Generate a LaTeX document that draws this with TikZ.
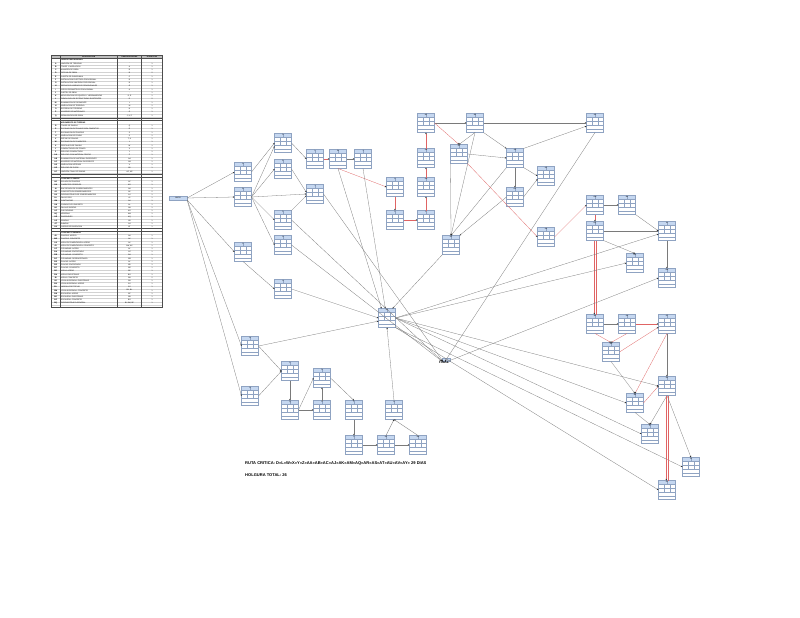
\documentclass[tikz,border=0pt]{standalone}
\usepackage{fontspec}
\setmainfont{Liberation Sans}
\usetikzlibrary{arrows.meta,calc}
\definecolor{boxc}{HTML}{8FA3C2}
\definecolor{hdrc}{HTML}{C5D7F0}
\definecolor{linec}{HTML}{7A7A7A}
\definecolor{critc}{HTML}{E06464}
\definecolor{thead}{HTML}{BFBFBF}
\tikzset{
  actbox/.style={draw=boxc, line width=0.3pt, fill=white, minimum width=17pt, minimum height=19pt, inner sep=0pt, outer sep=0pt},
  hdrtxt/.style={font=\fontsize{1.8}{2}\selectfont, inner sep=0pt},
  e/.style={draw=linec, line width=0.28pt, -{Stealth[length=1.7pt,width=1.4pt,color=black!85]}},
  crit/.style={e, draw=critc},
  plainred/.style={draw=critc, line width=0.28pt},
  tl/.style={font=\fontsize{1.9}{2}\selectfont\bfseries, inner sep=0pt},
  td/.style={font=\fontsize{1.8}{2}\selectfont, inner sep=0pt, anchor=west},
  tc/.style={font=\fontsize{1.8}{2}\selectfont, inner sep=0pt},
  tsh/.style={font=\fontsize{1.9}{2}\selectfont\bfseries, inner sep=0pt, anchor=west},
  rowl/.style={draw=gray!35, line width=0.12pt},
  secl/.style={draw=black!70, line width=0.3pt},
  bigtxt/.style={font=\fontsize{4.05}{4.2}\selectfont\bfseries, inner sep=0pt, anchor=west}
}
\newcommand\act[4]{%
  \node[actbox] (#1) at (#2,#3) {};
  \begin{scope}[shift={(#1.center)}]
    \fill[hdrc] (-8.5,-9.5) rectangle (8.5,-6);
    \draw[boxc, line width=0.2pt] (-8.5,-6) -- (8.5,-6) (-8.5,-2) -- (8.5,-2) (-8.5,2) -- (8.5,2) (-8.5,5.8) -- (8.5,5.8)
      (0,-9.5) -- (0,-6) (-2.83,-6) -- (-2.83,2) (2.83,-6) -- (2.83,2);
    \draw[boxc, line width=0.3pt] (-8.5,-9.5) rectangle (8.5,9.5);
    \node[hdrtxt] at (0,-7.75) {#4};
  \end{scope}
}
\newcommand\tsec[4]{%
  \node[tsh] at (61,#1) {#3};
  \draw[rowl] (51.5,#1+#2/2) -- (162.5,#1+#2/2);
  \foreach \l/\d/\p/\u [count=\i from 1] in {#4} {
    \pgfmathsetmacro\yy{#1+\i*#2}
    \node[tl] at (55.75,\yy) {\l};
    \node[td] at (61,\yy) {\d};
    \node[tc] at (129.5,\yy) {\p};
    \node[tc] at (152,\yy) {\u};
    \draw[rowl] (51.5,\yy+#2/2) -- (162.5,\yy+#2/2);
  }
}
\begin{document}
\begin{tikzpicture}[x=1pt,y=-1pt]
\fill[white] (0,0) rectangle (800,618);
\useasboundingbox (0,0) rectangle (800,618);

% ---------- table ----------
\fill[thead] (51.5,55) rectangle (162.5,58.6);
\node[tc,font=\fontsize{1.9}{2}\selectfont\bfseries] at (88.75,56.8) {DESCRIPCION};
\node[tc,font=\fontsize{1.9}{2}\selectfont\bfseries] at (129.5,56.8) {PREDECESORAS};
\node[tc,font=\fontsize{1.9}{2}\selectfont\bfseries] at (152,56.8) {DURACION};
\tsec{60.3}{3.25}{OBRAS PRELIMINARES}{A/LIMPIEZA DE TERRENO/-/1, B/TRAZO Y NIVELACION/A/1, C/ALMACEN DE OBRA/B/1, D/OFICINA DE OBRA/B/2, E/CASETA DE GUARDIANIA/C/1, F/INSTALACION ELECTRICA PROVISIONAL/B/1, G/INSTALACION SANITARIA PROVISIONAL/B/1, H/SERVICIOS HIGIENICOS PROVISIONALES/G/1, I/CERCO PERIMETRICO PROVISIONAL/A/1, J/CARTEL DE OBRA/-/1, K/MOVILIZACION DE EQUIPOS Y HERRAMIENTAS/{D, E}/1, L/DEMOLICION DE ESTRUCTURAS EXISTENTES/D/2, M/ELIMINACION DE DESMONTE/L/1, N/NIVELACION DE TERRENO/M/1, O/ENTREGA DE TERRENO/N/1, P/ACARREO DE MATERIALES/O/1, Q/SEÑALIZACION DE OBRA/{J, K, P}/1}
\tsec{122.8}{3.25}{MOVIMIENTO DE TIERRAS}{R/TRAZO DE ZANJAS/Q/1, S/EXCAVACION DE ZANJAS PARA CIMIENTOS/R/1, T/EXCAVACION DE ZAPATAS/S/1, U/NIVELACION DE FONDO/S/1, V/REFINE DE ZANJAS/{T, U}/1, W/EXCAVACION DE CIMIENTOS/L/1, X/PERFILADO DE ZANJAS/W/1, Y/COMPACTACION DE FONDO/X/1, Z/RELLENO COMPACTADO/Y/1, AA/RELLENO CON MATERIAL PROPIO/Z/1, AB/ELIMINACION DE MATERIAL EXCEDENTE/AA/1, AC/ACARREO DE MATERIAL EXCEDENTE/AB/1, AD/NIVELACION INTERIOR/V/1, AE/RELLENO DE PISOS/AD/1, AF/LIMPIEZA FINAL DE ZANJAS/{AC, AE}/1}
\tsec{178.9}{3.2}{CONCRETO SIMPLE}{AG/SOLADO DE ZAPATAS/AF/1, AH/CIMIENTOS CORRIDOS/AG/1, AI/ENCOFRADO DE SOBRECIMIENTOS/AH/1, AJ/CONCRETO EN SOBRECIMIENTOS/AC/2, AK/DESENCOFRADO DE SOBRECIMIENTOS/AJ/1, AL/FALSO PISO/AI/1, AM/CONTRAPISO/AK/1, AN/CURADO DE CONCRETO/AL/1, AO/FALSAS ZAPATAS/AN/1, AP/CALZADURAS/AO/1, AQ/VEREDAS/AM/1, AR/SARDINELES/AQ/1, AS/GRADAS/AR/1, AT/RAMPAS/AS/1, AU/JUNTAS DE DILATACION/AT/1}
\tsec{232.8}{3.2}{CONCRETO ARMADO}{AV/ZAPATAS: ACERO/AU/1, AW/ZAPATAS: CONCRETO/AV/1, AX/VIGAS DE CIMENTACION: ACERO/AV/1, AY/VIGAS DE CIMENTACION: CONCRETO/{AW, AX}/1, AZ/COLUMNAS: ACERO/AY/1, BA/COLUMNAS: ENCOFRADO/AZ/1, BB/COLUMNAS: CONCRETO/BA/1, BC/COLUMNAS: DESENCOFRADO/BB/1, BD/PLACAS: ACERO/AY/1, BE/PLACAS: ENCOFRADO/BD/1, BF/PLACAS: CONCRETO/BE/1, BG/VIGAS: ACERO/BC/1, BH/VIGAS: ENCOFRADO/BG/1, BI/VIGAS: CONCRETO/BH/2, BJ/LOSA ALIGERADA: ENCOFRADO/BH/1, BK/LOSA ALIGERADA: ACERO/BJ/1, BL/LADRILLO DE TECHO/BJ/1, BM/LOSA ALIGERADA: CONCRETO/{BK, BL}/1, BN/ESCALERA: ACERO/BF/1, BO/ESCALERA: ENCOFRADO/BN/1, BP/ESCALERA: CONCRETO/BO/1, BQ/DESENCOFRADO GENERAL/{BI, BM, BP}/1}
\draw[secl] (51.5,55) rectangle (162.5,306.8);
\draw[secl] (51.5,58.6) -- (162.5,58.6);
\draw[secl] (51.5,117.7) -- (162.5,117.7) (51.5,120.6) -- (162.5,120.6);
\draw[secl] (51.5,174.1) -- (162.5,174.1) (51.5,177.2) -- (162.5,177.2);
\draw[secl] (51.5,228.3) -- (162.5,228.3) (51.5,231.2) -- (162.5,231.2);
\draw[secl] (60,55) -- (60,306.8) (117.5,55) -- (117.5,306.8) (141.5,55) -- (141.5,306.8);

% ---------- activity nodes ----------
\node[draw=boxc, fill=hdrc, line width=0.3pt, minimum width=18pt, minimum height=3.6pt, inner sep=0pt, font=\fontsize{1.8}{2}\selectfont] (INICIO) at (178,198) {INICIO};
\act{A1}{243}{172}{A}
\act{A2}{243}{197}{B}
\act{A3}{243}{252}{C}
\act{B1}{283}{143}{D}
\act{B2}{283}{169}{E}
\act{B3}{283}{220}{F}
\act{B4}{283}{245}{G}
\act{B5}{283}{289}{H}
\act{C1}{315}{159}{L}
\act{C2}{315}{194}{I}
\act{D1}{338}{159}{W}
\act{D2}{363}{159}{J}
\act{E1}{395}{187}{X}
\act{E2}{395}{220}{Y}
\act{F1}{426}{123}{AC}
\act{F2}{426}{158}{AB}
\act{F3}{426}{187}{AA}
\act{F4}{426}{220}{Z}
\act{G}{387}{318}{AN}
\act{I}{451}{245}{AL}
\act{H1}{475}{123}{AD}
\act{H2}{459}{154}{AJ}
\act{H3}{595}{123}{AP}
\act{H4}{515}{158}{AE}
\act{H5}{546}{176}{AF}
\act{H6}{515}{197}{AG}
\act{J1}{546}{237}{AK}
\act{K1}{595}{205}{AM}
\act{K2}{627}{205}{AH}
\act{K3}{595}{231}{AQ}
\act{K4}{667}{231}{AI}
\act{K5}{635}{263}{AO}
\act{K6}{667}{278}{AW}
\act{L1}{595}{324}{AR}
\act{L2}{627}{324}{AX}
\act{L3}{667}{324}{AT}
\act{L4}{611}{352}{AS}
\act{L5}{667}{386}{AV}
\act{L6}{635}{403}{AU}
\act{L7}{650}{434}{K}
\act{L8}{691}{467}{M}
\act{L9}{667}{490}{AY}
\act{M1}{250}{346}{N}
\act{M2}{250}{396}{O}
\act{M3}{290}{371}{P}
\act{M4}{290}{410}{Q}
\act{M5}{322}{378}{R}
\act{M6}{322}{410}{S}
\act{M7}{354}{410}{T}
\act{M8}{394}{410}{U}
\act{N1}{354}{445}{V}
\act{N2}{386}{445}{AZ}
\act{N3}{418}{445}{BA}
\fill[hdrc] (442.5,357.6) rectangle (450,360.6);
\draw[boxc, line width=0.2pt] (442.5,357.6) rectangle (450,360.6);
\node[font=\fontsize{3.4}{3.4}\selectfont\bfseries, inner sep=0.3pt] (FINAL) at (444,362.8) {FINAL};

% ---------- connectors ----------
\draw[e] (INICIO.east) -- (A1.west);
\draw[e] (INICIO.east) -- (A2.west);
\draw[e] (INICIO.south east) -- (A3.west);
\draw[e] (INICIO.south east) -- (M1.west);
\draw[e] (INICIO.south east) -- (M2.west);
\draw[e] (A1.east) -- (B1.west);
\draw[e] (A2.east) -- (B1.200);
\draw[e] (A2.east) -- (B2.west);
\draw[e] (A2.east) -- (C2.west);
\draw[e] (A2.east) -- (B3.west);
\draw[e] (A2.east) -- (B4.west);
\draw[e] (A3.south) -- (B5.west);
\draw[e] (B1.east) -- (C1.west);
\draw[e] (B2.east) -- (C2.170);
\draw[e] (B3.north east) -- (C2.190);
\draw[crit] (C1.east) -- (D1.west);
\draw[e] (D1.east) -- (D2.west);
\draw[crit] (D1.south) -- (E1.west);
\draw[e] (D1.south) -- (G.120);
\draw[e] (D2.south) -- (G.100);
\draw[e] (I.south west) -- (G.60);
\draw[e] (C2.east) -- (FINAL);
\draw[e] (B3.east) -- (FINAL);
\draw[e] (B4.east) -- (FINAL);
\draw[e] (B5.east) -- (G.west);
\draw[e] (M1.east) -- (G.200);
\draw[crit] (E1.south) -- (E2.north);
\draw[crit] (E2.east) -- (F4.west);
\draw[crit] (F4.north) -- (F3.south);
\draw[crit] (F3.north) -- (F2.south);
\draw[crit] (F2.north) -- (F1.south);
\draw[e] (F1.east) -- (H1.west);
\draw[crit] (F1.east) -- (H2.north);
\draw[e] (H1.south) -- (H2.north);
\draw[e] (H1.east) -- (H3.west);
\draw[e] (H1.south east) -- (H4.north west);
\draw[e] (H2.east) -- (H4.west);
\draw[e] (H4.north east) -- (H3.200);
\draw[e] (H4.south east) -- (H5.west);
\draw[e] (H4.south) -- (H6.north);
\draw[e] (H6.east) -- (H5.200);
\draw[e] (H1.south) -- (I.north);
\draw[e] (H2.south west) -- (I.north);
\draw[e] (H4.south west) -- (I.north);
\draw[e] (H6.west) -- (I.north east);
\draw[crit] (H2.south east) -- (J1.west);
\draw[e] (H3.south) -- (FINAL);
\draw[crit] (J1.east) -- (K1.west);
\draw[e] (K1.east) -- (K2.west);
\draw[crit] (K1.south) -- (K3.north);
\draw[e] (K2.south east) -- (K4.west);
\draw[e] (K3.east) -- (K4.west);
\draw[e] (K3.south east) -- (K5.north);
\draw[e] (K4.south) -- (K6.north);
\draw[crit] ([xshift=-0.7pt]K3.south) -- ([xshift=-0.7pt]L1.north);
\draw[plainred] ([xshift=0.7pt]K3.south) -- ([xshift=0.7pt]L1.north);
\draw[e] (G.east) -- (K4.200);
\draw[e] (G.east) -- (K5.west);
\draw[e] (G.east) -- (L5.west);
\draw[e] (G.east) -- (L6.west);
\draw[e] (G.east) -- (L7.west);
\draw[e] (G.south east) -- (L8.west);
\draw[e] (G.south east) -- (L9.west);
\draw[e] (FINAL) -- (K6.west);
\draw[e] (L1.east) -- (L2.west);
\draw[crit] (L2.east) -- (L3.west);
\draw[crit] (L1.south) -- (L4.north);
\draw[crit] (L2.south) -- (L4.north);
\draw[crit] (L4.east) -- (L3.200);
\draw[e] (L4.south) -- (L6.north);
\draw[crit] (L3.south) -- (L6.north);
\draw[crit] (L6.east) -- (L5.west);
\draw[e] (L3.south) -- (L5.north);
\draw[e] (L5.south) -- (L7.north);
\draw[e] (L6.south) -- (L7.north);
\draw[crit] ([xshift=-0.7pt]L5.south) -- ([xshift=-0.7pt]L9.north);
\draw[plainred] ([xshift=0.7pt]L5.south) -- ([xshift=0.7pt]L9.north);
\draw[e] (L5.south) -- (L8.north);
\draw[e] (M1.east) -- (M3.west);
\draw[e] (M2.east) -- (M3.west);
\draw[e] (M3.south) -- (M4.north);
\draw[e] (M4.east) -- (M5.west);
\draw[e] (M4.east) -- (M6.west);
\draw[e] (M6.north) -- (M5.south);
\draw[e] (M5.east) -- (M7.north);
\draw[e] (M7.south) -- (N1.north);
\draw[e] (N1.east) -- (N2.west);
\draw[e] (N2.east) -- (N3.west);
\draw[e] (N2.north) -- (M8.south);
\draw[e] (N3.north) -- (M8.south);
\draw[e] (M8.north) -- (G.south);

% ---------- footer text ----------
\node[bigtxt] (ruta) at (245,463.3) {RUTA CRITICA: D»L»W»X»Y»Z»AA»AB»AC»AJ»AK»AM»AQ»AR»AS»AT»AU»AV»AY» 29 DIAS};
\node[bigtxt] (holg) at (245,475.5) {HOLGURA TOTAL: 26};
\end{tikzpicture}
\end{document}
